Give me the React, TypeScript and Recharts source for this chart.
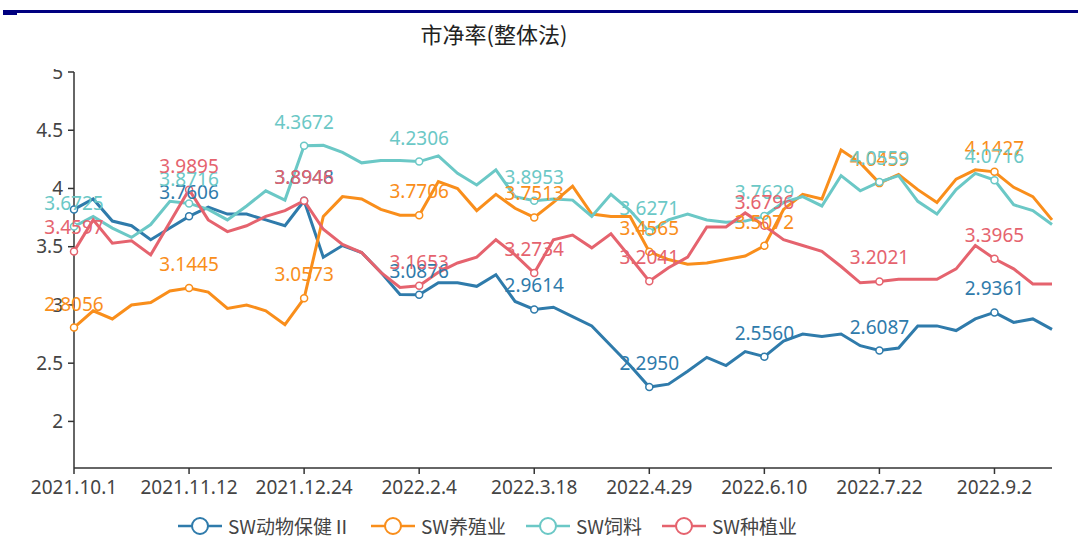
import React from 'react';
import { LineChart, Line, XAxis, YAxis, LabelList } from 'recharts';

const FONT = "'Noto Sans', 'Noto Sans CJK SC', sans-serif";

// weekly dates, 2021.10.1 - 2022.9.23
const dates = [
  '2021.10.1', '2021.10.8', '2021.10.15', '2021.10.22', '2021.10.29', '2021.11.5',
  '2021.11.12', '2021.11.19', '2021.11.26', '2021.12.3', '2021.12.10', '2021.12.17',
  '2021.12.24', '2021.12.31', '2022.1.7', '2022.1.14', '2022.1.21', '2022.1.28',
  '2022.2.4', '2022.2.11', '2022.2.18', '2022.2.25', '2022.3.4', '2022.3.11',
  '2022.3.18', '2022.3.25', '2022.4.1', '2022.4.8', '2022.4.15', '2022.4.22',
  '2022.4.29', '2022.5.6', '2022.5.13', '2022.5.20', '2022.5.27', '2022.6.3',
  '2022.6.10', '2022.6.17', '2022.6.24', '2022.7.1', '2022.7.8', '2022.7.15',
  '2022.7.22', '2022.7.29', '2022.8.5', '2022.8.12', '2022.8.19', '2022.8.26',
  '2022.9.2', '2022.9.9', '2022.9.16', '2022.9.23',
];

const animalHealth = [
  3.82, 3.91, 3.72, 3.68, 3.56, 3.66, 3.7606, 3.84, 3.78, 3.78, 3.73, 3.68,
  3.8948, 3.41, 3.51, 3.45, 3.28, 3.09, 3.0876, 3.19, 3.19, 3.16, 3.26, 3.03,
  2.9614, 2.98, 2.90, 2.82, 2.65, 2.48, 2.2950, 2.32, 2.43, 2.55, 2.48, 2.60,
  2.5560, 2.69, 2.75, 2.73, 2.75, 2.65, 2.6087, 2.63, 2.82, 2.82, 2.78, 2.88,
  2.9361, 2.85, 2.88, 2.79,
];

const breeding = [
  2.8056, 2.95, 2.88, 3.00, 3.02, 3.12, 3.1445, 3.11, 2.97, 3.00, 2.95, 2.83,
  3.0573, 3.76, 3.93, 3.91, 3.82, 3.77, 3.7706, 4.06, 4.00, 3.81, 3.95, 3.83,
  3.7513, 3.88, 4.02, 3.78, 3.76, 3.76, 3.4565, 3.39, 3.35, 3.36, 3.39, 3.42,
  3.5072, 3.82, 3.95, 3.91, 4.33, 4.22, 4.0459, 4.12, 3.99, 3.88, 4.08, 4.16,
  4.1427, 4.01, 3.93, 3.73,
];

const feed = [
  3.6725, 3.76, 3.66, 3.58, 3.69, 3.89, 3.8716, 3.82, 3.73, 3.85, 3.98, 3.90,
  4.3672, 4.37, 4.31, 4.22, 4.24, 4.24, 4.2306, 4.28, 4.13, 4.03, 4.16, 3.93,
  3.8953, 3.91, 3.90, 3.76, 3.95, 3.81, 3.6271, 3.73, 3.78, 3.73, 3.71, 3.72,
  3.7629, 3.88, 3.93, 3.85, 4.11, 3.98, 4.0559, 4.11, 3.89, 3.78, 3.99, 4.13,
  4.0716, 3.86, 3.81, 3.69,
];

const planting = [
  3.4597, 3.73, 3.53, 3.55, 3.43, 3.71, 3.9895, 3.73, 3.63, 3.68, 3.76, 3.81,
  3.8946, 3.65, 3.52, 3.45, 3.28, 3.15, 3.1653, 3.28, 3.36, 3.41, 3.56, 3.43,
  3.2734, 3.56, 3.60, 3.49, 3.61, 3.41, 3.2041, 3.32, 3.41, 3.67, 3.67, 3.79,
  3.6796, 3.56, 3.51, 3.46, 3.33, 3.19, 3.2021, 3.22, 3.22, 3.22, 3.31, 3.51,
  3.3965, 3.31, 3.18, 3.18,
];

const yTicks = [2, 2.5, 3, 3.5, 4, 4.5, 5];

const series = [
  { key: 'animalHealth', name: 'SW动物保健Ⅱ', color: '#2f7bab', hide: [0] },
  { key: 'breeding', name: 'SW养殖业', color: '#f98e1b', hide: [] as number[] },
  { key: 'feed', name: 'SW饲料', color: '#6bc8c6', hide: [] as number[] },
  { key: 'planting', name: 'SW种植业', color: '#e5636e', hide: [] as number[] },
];

const data = dates.map((d, i) => ({
  date: d,
  animalHealth: animalHealth[i],
  breeding: breeding[i],
  feed: feed[i],
  planting: planting[i],
}));

// marker + value label every 6th week
const isMark = (i: number) => i % 6 === 0;

const makeDot = (color: string) => (p: any) => {
  if (!isMark(p.index)) return <g key={`d${p.index}`} />;
  return <circle key={`d${p.index}`} cx={p.cx} cy={p.cy} r={3.5} fill="#fff" stroke={color} strokeWidth={1.5} />;
};

const makeLabel = (color: string, hide: number[]) => (p: any) => {
  if (!isMark(p.index) || hide.includes(p.index)) return null;
  return (
    <text x={p.x} y={p.y - 17} textAnchor="middle" fill={color} fontSize={19} fontFamily={FONT}>
      {Number(p.value).toFixed(4)}
    </text>
  );
};

function LegendIcon({ color }: { color: string }) {
  return (
    <svg width={44} height={20}>
      <line x1={0} y1={10} x2={44} y2={10} stroke={color} strokeWidth={2.5} />
      <circle cx={22} cy={10} r={8} fill="#fff" stroke={color} strokeWidth={2} />
    </svg>
  );
}

export default function App() {
  return (
    <div style={{ position: 'absolute', left: 0, top: 0, width: 1078, height: 550, background: '#fff', fontFamily: FONT }}>
      <div style={{ position: 'absolute', left: 3, top: 10, width: 1075, height: 3, background: '#000080' }} />
      <div style={{ position: 'absolute', left: 3, top: 10, width: 14, height: 5, background: '#000080' }} />
      <div style={{ position: 'absolute', left: 0, top: 17, width: 988, textAlign: 'center', fontSize: 22, color: '#222', fontFamily: "'Noto Sans CJK SC', sans-serif" }}>
        市净率(整体法)
      </div>
      <LineChart width={1078} height={550} data={data} margin={{ top: 72, right: 26, bottom: 52, left: 14 }}>
        <XAxis
          dataKey="date"
          interval={5}
          axisLine={{ stroke: '#333', strokeWidth: 1.5 }}
          tickLine={{ stroke: '#333', strokeWidth: 1.5 }}
          tickSize={6}
          tickMargin={7}
          height={30}
          tick={{ fill: '#444', fontSize: 19, fontFamily: FONT }}
        />
        <YAxis
          type="number"
          domain={[1.6, 5]}
          ticks={yTicks}
          allowDataOverflow
          width={60}
          axisLine={{ stroke: '#333', strokeWidth: 1.5 }}
          tickLine={{ stroke: '#333', strokeWidth: 1.5 }}
          tickSize={6}
          tickMargin={5}
          tick={{ fill: '#444', fontSize: 19, fontFamily: FONT }}
        />
        {series.map(s => (
          <Line
            key={s.key}
            type="linear"
            dataKey={s.key}
            name={s.name}
            stroke={s.color}
            strokeWidth={3}
            dot={makeDot(s.color)}
            activeDot={false}
            isAnimationActive={false}
          >
            <LabelList dataKey={s.key} content={makeLabel(s.color, s.hide)} />
          </Line>
        ))}
      </LineChart>
      {/* top of the "5" tick label is cut off in the source */}
      <div style={{ position: 'absolute', left: 30, top: 50, width: 36, height: 19, background: '#fff' }} />
      <div style={{ position: 'absolute', left: 178, top: 512, display: 'flex', alignItems: 'center', fontSize: 19, color: '#444', fontFamily: "'Noto Sans CJK SC', sans-serif" }}>
        {series.map(s => (
          <div key={s.key} style={{ display: 'flex', alignItems: 'center', marginRight: 20 }}>
            <LegendIcon color={s.color} />
            <span style={{ marginLeft: 6 }}>{s.name}</span>
          </div>
        ))}
      </div>
    </div>
  );
}
